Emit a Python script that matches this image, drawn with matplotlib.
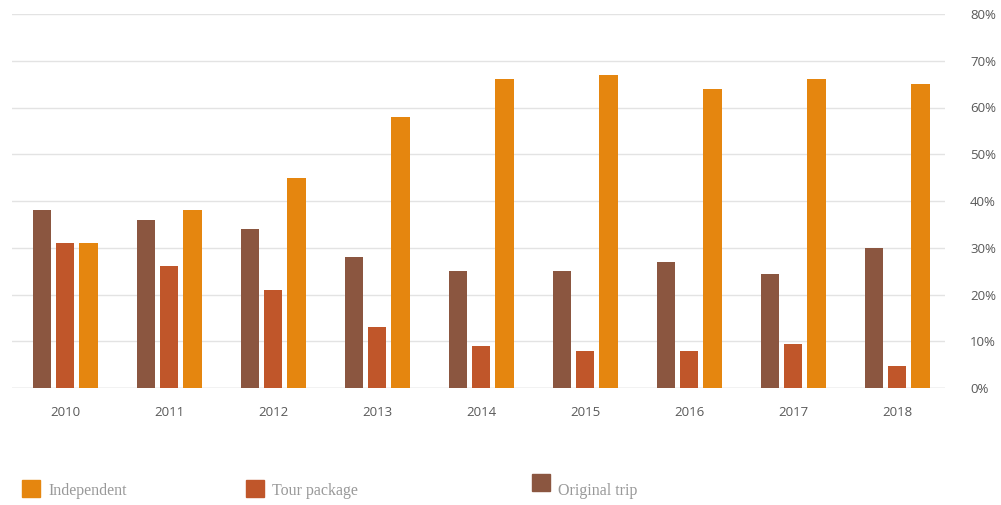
import matplotlib
matplotlib.use("Agg")
import matplotlib.pyplot as plt
from matplotlib.patches import Rectangle
import numpy as np

years = ["2010", "2011", "2012", "2013", "2014", "2015", "2016", "2017", "2018"]
original_trip = [38, 36, 34, 28, 25, 25, 27, 24.4, 30]
tour_package = [31, 26, 21, 13, 9, 8, 8, 9.4, 4.7]
independent = [31, 38, 45, 58, 66, 67, 64, 66, 65]
y_ticks = [0, 10, 20, 30, 40, 50, 60, 70, 80]

c_orig = "#8B5640"
c_tour = "#C0562A"
c_ind = "#E5860F"

fig = plt.figure(figsize=(10.01, 5.05), dpi=100)
ax = fig.add_axes([0.012, 1 - 388 / 505, 0.932, (388 - 14) / 505])

x = np.arange(len(years))
w = 0.175
ax.bar(x - 0.225, original_trip, w, color=c_orig, zorder=3)
ax.bar(x, tour_package, w, color=c_tour, zorder=3)
ax.bar(x + 0.225, independent, w, color=c_ind, zorder=3)

ax.set_xlim(-0.51, 8.46)
ax.set_ylim(0, 80)
ax.set_yticks(y_ticks)
ax.set_yticklabels([f"{v}%" for v in y_ticks])
ax.yaxis.tick_right()
ax.grid(axis="y", color="#e3e3e3", linewidth=1, zorder=0)
ax.set_xticks(x)
ax.set_xticklabels(years)
for s in ax.spines.values():
    s.set_visible(False)
ax.axhline(0, color="#d9d9d9", linewidth=1, zorder=2)
ax.tick_params(axis="both", length=0, labelsize=9.5, labelcolor="#595959")
ax.tick_params(axis="y", pad=18)
ax.tick_params(axis="x", pad=13)
for lbl in ax.get_xticklabels() + ax.get_yticklabels():
    lbl.set_fontfamily("Open Sans")

legend_items = [("Independent", c_ind, 22, 480), ("Tour package", c_tour, 246, 480), ("Original trip", c_orig, 532, 474)]
for text, col, px, py in legend_items:
    fig.patches.append(Rectangle((px / 1001, 1 - (py + 17) / 505), 18 / 1001, 17 / 505,
                                 transform=fig.transFigure, color=col))
    fig.text((px + 26) / 1001, 1 - 491 / 505, text, fontsize=11.5, color="#999999",
             family="Liberation Serif", va="center", ha="left")

fig.savefig("out.png", dpi=100)
